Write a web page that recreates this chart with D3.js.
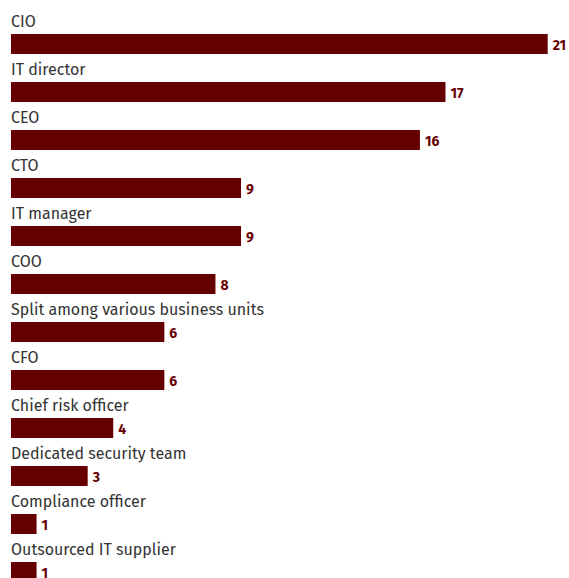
<!DOCTYPE html>
<html>
<head>
<meta charset="utf-8">
<script src="https://cdn.jsdelivr.net/npm/d3@7"></script>
<style>
  html, body { margin: 0; padding: 0; background: #fff; }
  svg { display: block; }
</style>
</head>
<body>
<svg id="chart" width="569" height="578"></svg>
<script>
// Who holds responsibility for security, by role
const categories = [
  "CIO", "IT director", "CEO", "CTO", "IT manager", "COO",
  "Split among various business units", "CFO", "Chief risk officer",
  "Dedicated security team", "Compliance officer", "Outsourced IT supplier"
];
const values = [21, 17, 16, 9, 9, 8, 6, 6, 4, 3, 1, 1];

const svg = d3.select("#chart");
const left = 11, rowStep = 48, firstTop = 0;
const barTop = 34, barH = 20;

const x = d3.scaleLinear().domain([0, 21]).range([left, 547.7]);
const y = d3.scaleBand().domain(categories)
  .range([firstTop, firstTop + rowStep * categories.length]).padding(0);

const rows = svg.selectAll("g.row").data(categories).join("g")
  .attr("class", "row")
  .attr("transform", d => `translate(0,${y(d)})`);

rows.append("text")
  .attr("x", left)
  .attr("y", 26.5)
  .attr("font-family", "'Fira Sans', 'Open Sans', sans-serif")
  .attr("font-size", 16)
  .attr("fill", "#333")
  .text(d => d);

rows.append("rect")
  .attr("x", left)
  .attr("y", barTop)
  .attr("height", barH)
  .attr("width", (d, i) => x(values[i]) - x(0))
  .attr("fill", "#660000");

rows.append("text")
  .attr("x", (d, i) => x(values[i]) + 5)
  .attr("y", barTop + 15.5)
  .attr("font-family", "'Fira Sans', 'Open Sans', sans-serif")
  .attr("font-size", 14)
  .attr("font-weight", "bold")
  .attr("fill", "#660000")
  .text((d, i) => values[i]);
</script>
</body>
</html>
